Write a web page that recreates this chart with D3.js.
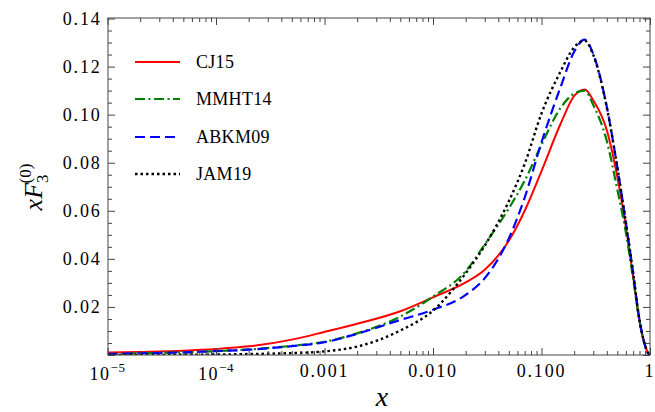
<!DOCTYPE html>
<html>
<head>
<meta charset="utf-8">
<script src="https://cdn.jsdelivr.net/npm/d3@7"></script>
<style>
  html, body { margin: 0; padding: 0; background: #fff; }
  svg { display: block; }
  text { font-family: "Liberation Serif", "Times New Roman", "DejaVu Serif", serif; }
</style>
</head>
<body>
<svg id="chart" width="655" height="412"></svg>
<script>
// Sampling points in x (log spaced) shared by all curves
const xGrid = [1e-5, 2e-5, 5e-5, 1e-4, 2e-4, 5e-4, 1e-3, 2e-3, 5e-3, 0.01, 0.02, 0.03, 0.05, 0.07, 0.1, 0.15, 0.2, 0.25, 0.3, 0.4, 0.5, 0.6, 0.7, 0.8, 0.9, 0.95, 1];

const cj15   = [0.0010, 0.0013, 0.0018, 0.0025, 0.0036, 0.0064, 0.0096, 0.0130, 0.0182, 0.0240, 0.0302, 0.0355, 0.0475, 0.0600, 0.0765, 0.0962, 0.1078, 0.1105, 0.1060, 0.0935, 0.0740, 0.0532, 0.0325, 0.0145, 0.0040, 0.0012, 0];
const mmht14 = [0.0004, 0.0007, 0.0011, 0.0016, 0.0023, 0.0038, 0.0055, 0.0090, 0.0160, 0.0243, 0.0348, 0.0460, 0.0610, 0.0725, 0.0875, 0.1028, 0.1088, 0.1100, 0.1040, 0.0890, 0.0688, 0.0508, 0.0315, 0.0142, 0.0040, 0.0012, 0];
const abkm09 = [0.0004, 0.0007, 0.0011, 0.0016, 0.0022, 0.0037, 0.0053, 0.0088, 0.0146, 0.0188, 0.0250, 0.0320, 0.0485, 0.0655, 0.0885, 0.1115, 0.1262, 0.1312, 0.1252, 0.1032, 0.0780, 0.0550, 0.0340, 0.0145, 0.0040, 0.0012, 0];
const jam19  = [0.0000, 0.0000, 0.0001, 0.0002, 0.0004, 0.0008, 0.0015, 0.0035, 0.0102, 0.0185, 0.0340, 0.0455, 0.0640, 0.0795, 0.1005, 0.1180, 0.1280, 0.1308, 0.1248, 0.1030, 0.0780, 0.0550, 0.0340, 0.0145, 0.0040, 0.0012, 0];

const seriesNames = ["CJ15", "MMHT14", "ABKM09", "JAM19"];
const seriesValues = [cj15, mmht14, abkm09, jam19];

// Axis tick positions and labels
const yTicks = [0.02, 0.04, 0.06, 0.08, 0.10, 0.12, 0.14];
const yTickLabels = ["0.02", "0.04", "0.06", "0.08", "0.10", "0.12", "0.14"];
const xTicks = [1e-5, 1e-4, 1e-3, 1e-2, 1e-1, 1];
const xTickLabels = [["10", "\u22125"], ["10", "\u22124"], ["0.001"], ["0.010"], ["0.100"], ["1"]];

const styles = [
  { color: "#ff0000", width: 2.0, dash: null },
  { color: "#008000", width: 2.2, dash: "10,3.5,2,3.5" },
  { color: "#0000ff", width: 2.2, dash: "10,5" },
  { color: "#000000", width: 2.4, dash: "2.5,3" }
];

const svg = d3.select("#chart");
const L = 108, R = 650, T = 18, B = 355;

const x = d3.scaleLog().domain([1e-5, 1]).range([107.5, 650]);
const y = d3.scaleLinear().domain([0, 0.14]).range([B, T + 0.5]);

svg.append("clipPath").attr("id", "clip")
  .append("rect").attr("x", L).attr("y", T).attr("width", R - L).attr("height", B - T);

const line = d3.line()
  .x(d => x(d[0]))
  .y(d => y(d[1]))
  .curve(d3.curveMonotoneX);

const curves = svg.append("g").attr("clip-path", "url(#clip)");
seriesValues.forEach((vals, i) => {
  const st = styles[i];
  curves.append("path")
    .datum(xGrid.map((xv, j) => [xv, vals[j]]))
    .attr("fill", "none")
    .attr("stroke", st.color)
    .attr("stroke-width", st.width)
    .attr("stroke-dasharray", st.dash)
    .attr("d", line);
});

// Frame
const frameColor = "#444";
svg.append("rect")
  .attr("x", L).attr("y", T).attr("width", R - L).attr("height", B - T)
  .attr("fill", "none").attr("stroke", frameColor).attr("stroke-width", 1);

// Minor tick values
const yMinor = d3.range(0, 0.1401, 0.005).filter(v => Math.abs(v / 0.02 - Math.round(v / 0.02)) > 1e-6);
const xMinor = [];
for (let e = -5; e < 0; e++) for (let m = 2; m <= 9; m++) xMinor.push(m * Math.pow(10, e));

function tickAxis(axisFn, scale, values, size, translate) {
  const g = svg.append("g").attr("transform", translate)
    .call(axisFn(scale).tickValues(values).tickSize(-size).tickFormat(""));
  g.select(".domain").remove();
  g.selectAll(".tick line").attr("stroke", frameColor).attr("stroke-width", 1);
  return g;
}

tickAxis(d3.axisLeft, y, [0].concat(yTicks), 7, `translate(${L},0)`);
tickAxis(d3.axisLeft, y, yMinor, 4, `translate(${L},0)`);
tickAxis(d3.axisRight, y, [0].concat(yTicks), 7, `translate(${R},0)`);
tickAxis(d3.axisRight, y, yMinor, 4, `translate(${R},0)`);
tickAxis(d3.axisBottom, x, xTicks, 7, `translate(0,${B})`);
tickAxis(d3.axisBottom, x, xMinor, 4, `translate(0,${B})`);
tickAxis(d3.axisTop, x, xTicks, 7, `translate(0,${T})`);
tickAxis(d3.axisTop, x, xMinor, 4, `translate(0,${T})`);

// Y tick labels
svg.append("g").selectAll("text").data(yTicks).join("text")
  .attr("x", 101.5)
  .attr("y", d => y(d) + 6)
  .attr("text-anchor", "end")
  .attr("font-size", 18)
  .attr("letter-spacing", 1.8)
  .text((d, i) => yTickLabels[i]);

// X tick labels
const xl = svg.append("g");
xTicks.forEach((v, i) => {
  const parts = xTickLabels[i];
  const t = xl.append("text")
    .attr("x", x(v))
    .attr("text-anchor", "middle")
    .attr("font-size", 18)
    .attr("letter-spacing", parts.length > 1 ? 1.5 : 1.8);
  if (parts.length > 1) {
    t.attr("y", 380);
    t.append("tspan").text(parts[0]);
    t.append("tspan").attr("font-size", 13).attr("dy", -8).attr("letter-spacing", 0.5).text(parts[1]);
  } else {
    t.attr("y", 377).text(parts[0]);
  }
});

// Axis titles
svg.append("text")
  .attr("x", 382).attr("y", 406)
  .attr("text-anchor", "middle")
  .attr("font-size", 28)
  .attr("font-style", "italic")
  .text("x");

const yt = svg.append("text")
  .attr("transform", "translate(42,187) rotate(-90)")
  .attr("text-anchor", "middle")
  .attr("font-size", 26);
yt.append("tspan").attr("font-style", "italic").text("xF");
yt.append("tspan").attr("font-size", 17).attr("dy", 6).text("3");
yt.append("tspan").attr("font-size", 17).attr("dy", -17).attr("dx", -9).text("(0)");

// Legend
const legend = svg.append("g");
const rowY = [62, 99, 137, 174];
seriesNames.forEach((name, i) => {
  const st = styles[i];
  legend.append("line")
    .attr("x1", 135).attr("x2", 180)
    .attr("y1", rowY[i]).attr("y2", rowY[i])
    .attr("stroke", st.color)
    .attr("stroke-width", st.width)
    .attr("stroke-dasharray", st.dash);
  legend.append("text")
    .attr("x", 196).attr("y", rowY[i] + 6)
    .attr("font-size", 18)
    .attr("letter-spacing", 0.3)
    .text(name);
});
</script>
</body>
</html>
